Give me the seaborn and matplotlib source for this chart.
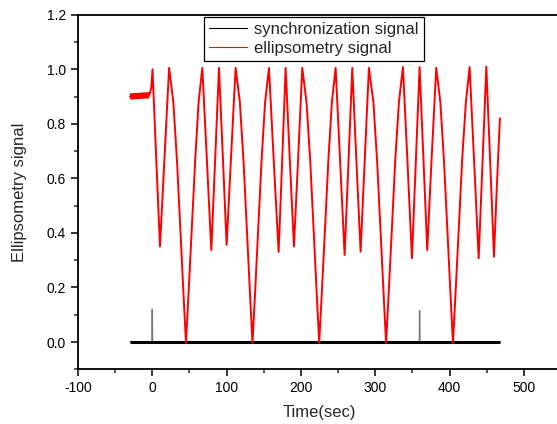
import numpy as np
import pandas as pd
import matplotlib
matplotlib.use("Agg")
import matplotlib.pyplot as plt
from matplotlib.ticker import MultipleLocator, FormatStrFormatter
from matplotlib.lines import Line2D
import seaborn as sns

# ---- data ----
ellip_time = [-30, -4, -1.5, 0.3, 5.3, 10.3, 16.5, 22.6, 28.3, 33.3, 37.8, 41.9, 45.3,
              48.8, 53.2, 57.8, 62.3, 67.3, 73.4, 79.4, 84.6, 89.7, 94.9, 100.0, 106.0,
              112.1, 117.8, 122.8, 127.3, 131.4, 134.8, 138.3, 142.6, 147.1, 151.8, 157.0,
              163.5, 170.0, 174.7, 179.4, 185.0, 190.6, 196.2, 201.8, 207.5, 212.6, 217.1,
              221.2, 224.6, 228.1, 232.5, 237.0, 241.7, 246.7, 252.8, 258.8, 264.0, 269.1,
              274.7, 280.3, 285.9, 291.5, 297.5, 302.6, 307.1, 311.2, 314.6, 318.1, 322.5,
              327.0, 331.9, 337.3, 343.4, 349.4, 354.6, 359.7, 364.9, 370.0, 376.0, 382.1,
              387.6, 392.6, 397.1, 401.2, 404.6, 408.1, 412.5, 417.0, 422.0, 427.0, 433.1,
              439.2, 444.4, 449.5, 454.7, 459.8, 463.8, 467.8]
ellip_value = [0.900, 0.905, 0.930, 1.000, 0.67, 0.350, 0.68, 1.005, 0.88, 0.66, 0.41, 0.18, -0.003,
               0.18, 0.42, 0.67, 0.88, 1.005, 0.67, 0.337, 0.67, 1.005, 0.68, 0.356, 0.68,
               1.005, 0.88, 0.66, 0.41, 0.18, -0.003, 0.18, 0.42, 0.67, 0.88, 1.005,
               0.66, 0.330, 0.66, 1.005, 0.67, 0.350, 0.67, 1.005, 0.88, 0.66, 0.41,
               0.18, -0.003, 0.18, 0.42, 0.67, 0.88, 1.005, 0.66, 0.319, 0.66, 1.005,
               0.66, 0.331, 0.67, 1.005, 0.88, 0.66, 0.41, 0.18, -0.003, 0.18, 0.42,
               0.67, 0.88, 1.008, 0.66, 0.307, 0.66, 1.008, 0.67, 0.337, 0.68, 1.005,
               0.88, 0.66, 0.41, 0.18, -0.003, 0.18, 0.42, 0.67, 0.88, 1.008, 0.66,
               0.307, 0.66, 1.010, 0.66, 0.313, 0.58, 0.820]

sync_time = [-30, -0.3, 0.0, 0.3, 359.4, 359.7, 360.0, 468]
sync_value = [0.0, 0.0, 0.12, 0.0, 0.0, 0.115, 0.0, 0.0]

x_ticks = [-100, 0, 100, 200, 300, 400, 500]
y_ticks = [0.0, 0.2, 0.4, 0.6, 0.8, 1.0, 1.2]
series_labels = ["synchronization signal", "ellipsometry signal"]

ellip = pd.DataFrame({"t": ellip_time, "v": ellip_value})
sync = pd.DataFrame({"t": sync_time, "v": sync_value})

sns.set_style("ticks")
plt.rcParams["font.family"] = ["Liberation Sans", "DejaVu Sans"]
plt.rcParams["axes.unicode_minus"] = False

fig = plt.figure(figsize=(5.57, 4.24), dpi=100)
ax = fig.add_axes([78 / 557, 1 - 369.3 / 424, 483 / 557, 354.6 / 424])

# sync signal: thin grey spikes + thick noisy-looking baseline
sns.lineplot(data=sync, x="t", y="v", ax=ax, color="#777777", lw=1.0,
             estimator=None, sort=False, legend=False)
base = sync.copy()
base["v"] = np.where(base["v"] > 0.01, np.nan, base["v"])
base = base.dropna()
sns.lineplot(data=base, x="t", y="v", ax=ax, color="black", lw=2.2,
             estimator=None, sort=False, legend=False, solid_capstyle="butt")

# ellipsometry signal
pre = ellip[ellip["t"] <= -4]
sns.lineplot(data=pre, x="t", y="v", ax=ax, color="#ff0000", lw=4.5,
             estimator=None, sort=False, legend=False, solid_capstyle="butt")
sns.lineplot(data=ellip, x="t", y="v", ax=ax, color="#ff0000", lw=1.4,
             estimator=None, sort=False, legend=False)

# legend
handles = [Line2D([], [], color="black", lw=0.8),
           Line2D([], [], color="#ff0000", lw=0.8)]
leg = ax.legend(handles, series_labels,
                loc="upper left", bbox_to_anchor=(0.261, 0.993), borderaxespad=0,
                fontsize=12, frameon=True, fancybox=False, edgecolor="black",
                framealpha=1, handlelength=2.3, handletextpad=0.4,
                labelspacing=0.2, borderpad=0.3)
leg.get_frame().set_linewidth(0.9)

ax.set_xlim(-100, 550)
ax.set_ylim(-0.1, 1.2)
ax.set_xticks(x_ticks)
ax.set_yticks(y_ticks)
ax.xaxis.set_minor_locator(MultipleLocator(50))
ax.yaxis.set_minor_locator(MultipleLocator(0.1))
ax.yaxis.set_major_formatter(FormatStrFormatter("%.1f"))
ax.tick_params(axis="both", which="major", direction="out", length=5, width=1.1,
               labelsize=10, colors="black")
ax.tick_params(axis="both", which="minor", direction="out", length=3, width=1.1)
for s in ["left", "bottom", "top"]:
    ax.spines[s].set_visible(True)
    ax.spines[s].set_linewidth(1.3)
    ax.spines[s].set_color("black")
ax.spines["right"].set_visible(False)

ax.set_xlabel("Time(sec)", fontsize=12, labelpad=7)
ax.set_ylabel("Ellipsometry signal", fontsize=12, labelpad=14)

fig.savefig("out.png", dpi=100)
